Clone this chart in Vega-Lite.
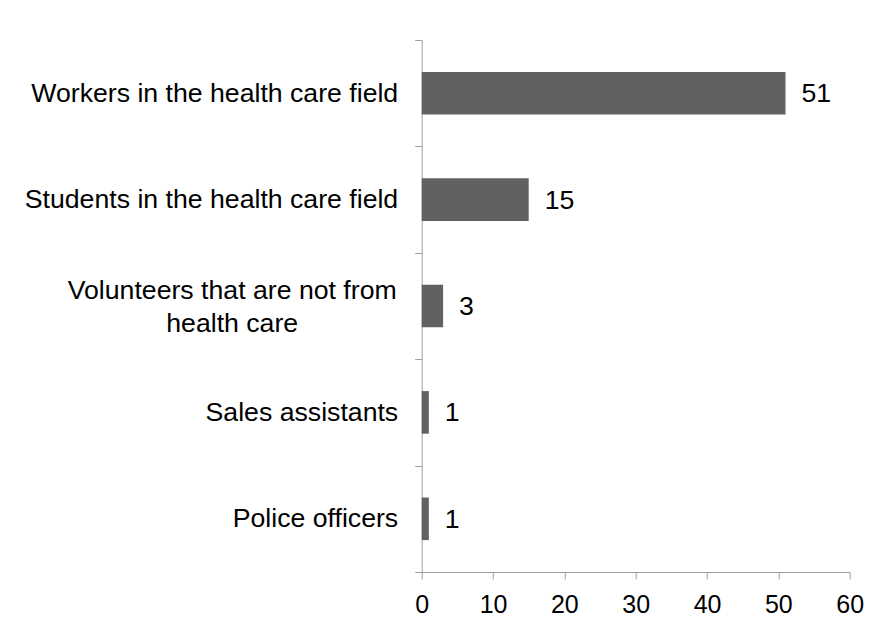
{
  "$schema": "https://vega.github.io/schema/vega-lite/v6.json",
  "width": 428,
  "height": 532,
  "autosize": {"type": "none"},
  "padding": {"left": 421.7, "top": 40, "right": 30.3, "bottom": 56},
  "background": "white",
  "config": {
    "view": {"stroke": null},
    "font": "Liberation Sans",
    "axis": {
      "labelFont": "Liberation Sans",
      "labelColor": "black",
      "domainColor": "#a0a0a0",
      "tickColor": "#a0a0a0",
      "tickSize": 7,
      "grid": false,
      "title": null
    }
  },
  "data": {
    "values": [
      {"group": "Workers in the health care field", "count": 51},
      {"group": "Students in the health care field", "count": 15},
      {"group": "Volunteers that are not from health care", "count": 3},
      {"group": "Sales assistants", "count": 1},
      {"group": "Police officers", "count": 1}
    ]
  },
  "encoding": {
    "y": {
      "field": "group",
      "type": "nominal",
      "sort": null,
      "scale": {"paddingInner": 0, "paddingOuter": 0},
      "axis": {
        "tickBand": "extent",
        "labelFontSize": 26.67,
        "labelLineHeight": 33,
        "labelLimit": 500,
        "labelOffset": {"condition": {"test": "datum.value === 'Volunteers that are not from health care'", "value": -16}, "value": 0},
        "labelPadding": {"condition": {"test": "datum.value === 'Volunteers that are not from health care'", "value": 183}, "value": 17},
        "labelAlign": {"condition": {"test": "datum.value === 'Volunteers that are not from health care'", "value": "center"}, "value": "right"},
        "labelExpr": "datum.value === 'Volunteers that are not from health care' ? ['Volunteers that are not from', 'health care'] : datum.value"
      }
    },
    "x": {
      "field": "count",
      "type": "quantitative",
      "scale": {"domain": [0, 60], "nice": false},
      "axis": {"values": [0, 10, 20, 30, 40, 50, 60], "labelFontSize": 25, "labelPadding": 13, "labelFlush": false}
    }
  },
  "layer": [
    {"mark": {"type": "bar", "color": "#616161", "height": {"band": 0.4}}},
    {
      "mark": {"type": "text", "align": "left", "baseline": "middle", "dx": 16, "dy": 1, "fontSize": 26.67, "color": "black"},
      "encoding": {"text": {"field": "count", "type": "quantitative"}}
    }
  ]
}
